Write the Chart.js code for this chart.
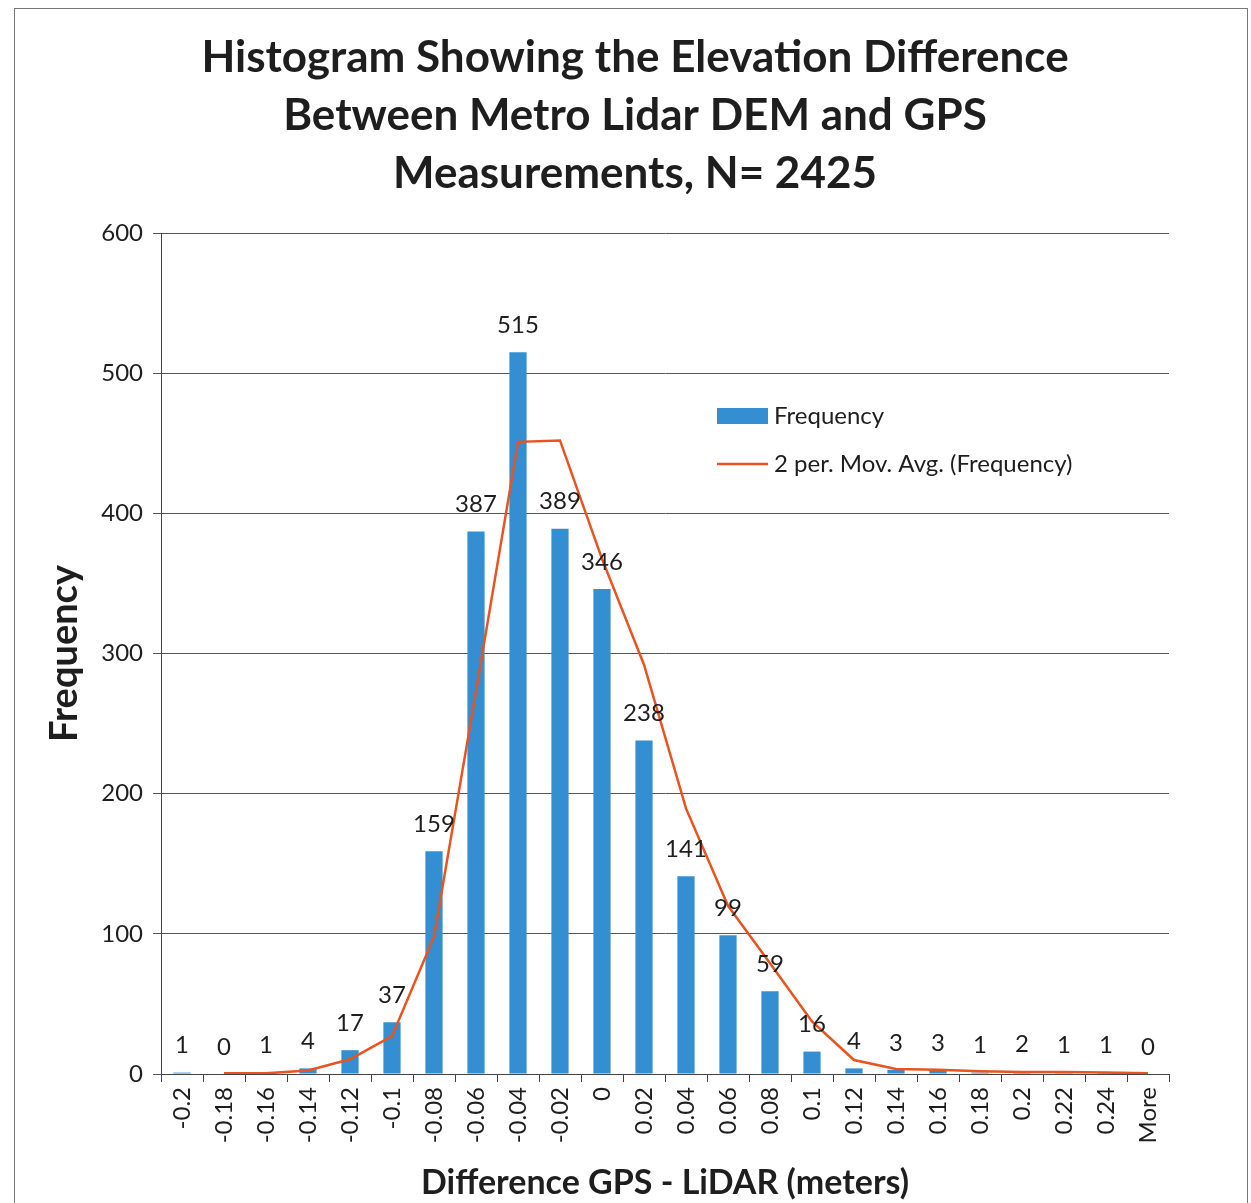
<!DOCTYPE html>
<html>
<head>
<meta charset="utf-8">
<script src="https://cdn.jsdelivr.net/npm/chart.js@4.4.0/dist/chart.umd.min.js"></script>
<style>
  html, body { margin: 0; padding: 0; background: #fff; }
  #wrap { width: 1251px; height: 1203px; }
</style>
</head>
<body>
<div id="wrap"><canvas id="histChart" width="1251" height="1203"></canvas></div>
<script>
const bins = ['-0.2', '-0.18', '-0.16', '-0.14', '-0.12', '-0.1', '-0.08', '-0.06', '-0.04', '-0.02', '0',
  '0.02', '0.04', '0.06', '0.08', '0.1', '0.12', '0.14', '0.16', '0.18', '0.2', '0.22', '0.24', 'More'];
const frequency = [1, 0, 1, 4, 17, 37, 159, 387, 515, 389, 346, 238, 141, 99, 59, 16, 4, 3, 3, 1, 2, 1, 1, 0];
// trendline values (first bin has no average)
const movAvg = [null, 0.5, 0.5, 2.5, 10.5, 27, 98, 273, 451, 452, 367.5, 292, 189.5, 120, 79, 37.5, 10, 3.5, 3, 2, 1.5, 1.5, 1, 0.5];
const titleLines = ['Histogram Showing the Elevation Difference', 'Between Metro Lidar DEM and GPS', 'Measurements, N= 2425'];

const barBlue = '#338fd2';
const lineRed = '#e8531f';
const font = 'Lato, "Open Sans", sans-serif';

const extras = {
  id: 'extras',
  afterDatasetsDraw(chart) {
    const c = chart.ctx;
    const meta = chart.getDatasetMeta(0);
    c.save();
    c.fillStyle = '#1e1e1e';
    c.font = '24px ' + font;
    c.textAlign = 'center';
    c.textBaseline = 'middle';
    meta.data.forEach((bar, i) => {
      c.fillText(String(frequency[i]), bar.x, bar.y - 27);
    });
    c.restore();
  },
  afterDraw(chart) {
    const c = chart.ctx;
    c.save();
    // title
    c.fillStyle = '#1e1e1e';
    c.font = 'bold 44px ' + font;
    c.textAlign = 'center';
    c.textBaseline = 'middle';
    titleLines.forEach((t, i) => c.fillText(t, 635, 58 + i * 58));
    // legend
    c.font = '24px ' + font;
    c.textAlign = 'left';
    c.fillStyle = barBlue;
    c.fillRect(717, 408, 51, 16);
    c.fillStyle = '#1e1e1e';
    c.fillText(chart.data.datasets[0].label, 774, 416);
    c.strokeStyle = lineRed;
    c.lineWidth = 2.5;
    c.beginPath();
    c.moveTo(717, 464);
    c.lineTo(768, 464);
    c.stroke();
    c.fillText(chart.data.datasets[1].label, 774, 464);
    // outer frame
    c.strokeStyle = '#777';
    c.lineWidth = 1;
    c.strokeRect(14.5, 8.5, 1233, 1200);
    c.restore();
  }
};

new Chart(document.getElementById('histChart'), {
  data: {
    labels: bins,
    datasets: [
      {
        type: 'bar',
        label: 'Frequency',
        data: frequency,
        backgroundColor: barBlue,
        barPercentage: 0.41,
        categoryPercentage: 1,
        order: 1
      },
      {
        type: 'line',
        label: '2 per. Mov. Avg. (Frequency)',
        data: movAvg,
        borderColor: lineRed,
        borderWidth: 2.5,
        pointRadius: 0,
        tension: 0,
        spanGaps: false,
        order: 0
      }
    ]
  },
  options: {
    responsive: false,
    animation: false,
    layout: { padding: { top: 233, left: 14, right: 82, bottom: 0 } },
    plugins: {
      legend: { display: false },
      tooltip: { enabled: false },
      title: { display: false }
    },
    scales: {
      x: {
        afterFit: s => { s.height = 129; },
        grid: { offset: true, drawOnChartArea: false, tickLength: 8, color: '#444' },
        border: { color: '#444', width: 1 },
        ticks: { color: '#1e1e1e', font: { family: font, size: 24 }, maxRotation: 90, minRotation: 90, padding: 5, autoSkip: false },
        title: { display: true, text: 'Difference GPS - LiDAR (meters)', color: '#1e1e1e', font: { family: font, size: 34, weight: 'bold' }, padding: { top: 0, bottom: 0 } }
      },
      y: {
        min: 0,
        max: 600,
        afterFit: s => { s.width = 147; },
        grid: { color: '#555', tickLength: 8 },
        border: { color: '#444', width: 1 },
        ticks: { stepSize: 100, color: '#1e1e1e', font: { family: font, size: 24 }, padding: 10 },
        title: { display: true, text: 'Frequency', color: '#1e1e1e', font: { family: font, size: 38, weight: 'bold' }, padding: { top: 28, bottom: 0 } }
      }
    }
  },
  plugins: [extras]
});
</script>
</body>
</html>
